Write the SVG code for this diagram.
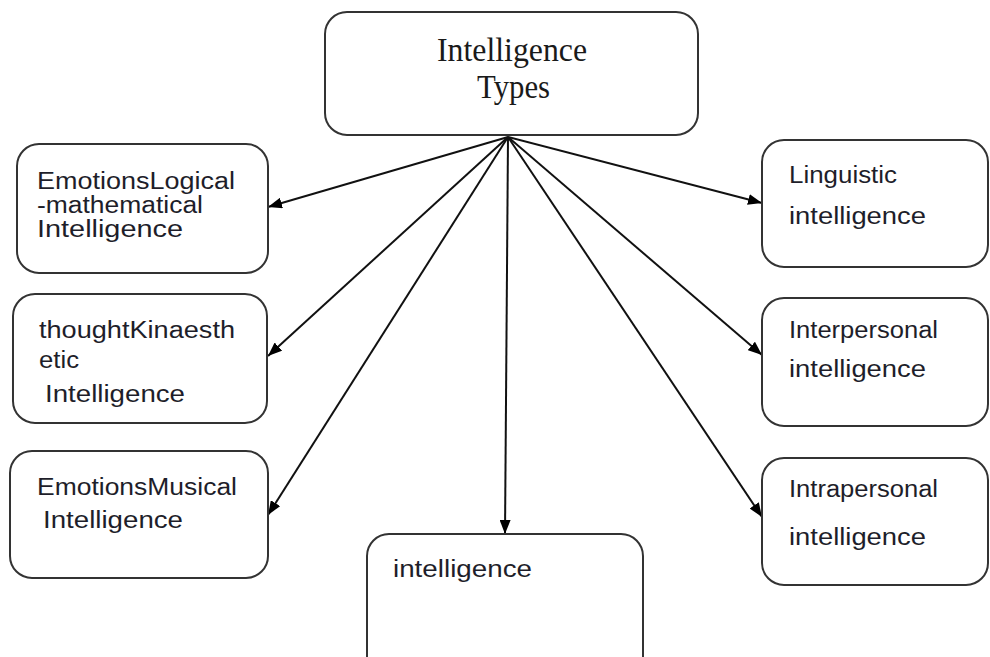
<svg xmlns="http://www.w3.org/2000/svg" width="990" height="657" viewBox="0 0 990 657">
<style>
.box{fill:#fff;stroke:#333;stroke-width:2}
.s{font-family:"Liberation Sans",Arial,sans-serif;font-size:23px;fill:#1e1e2a}
.t{font-family:"Liberation Serif","Times New Roman",serif;font-size:33px;fill:#1a1a1a}
.c{stroke:#111;stroke-width:2;fill:none;marker-end:url(#ah)}
</style>
<defs>
<marker id="ah" viewBox="0 0 14 11" refX="14" refY="5.5" markerWidth="14" markerHeight="11" markerUnits="userSpaceOnUse" orient="auto">
<path d="M0,0 L14,5.5 L0,11 Z" fill="#000"/>
</marker>
</defs>
<rect width="990" height="657" fill="#fff"/>
<g id="connectors">
<line class="c" x1="508" y1="137" x2="268" y2="207"/>
<line class="c" x1="508" y1="137" x2="268" y2="356"/>
<line class="c" x1="508" y1="137" x2="268" y2="515"/>
<line class="c" x1="508" y1="137" x2="505" y2="534"/>
<line class="c" x1="508" y1="137" x2="762" y2="203"/>
<line class="c" x1="508" y1="137" x2="762" y2="355"/>
<line class="c" x1="508" y1="137" x2="762" y2="517"/>
</g>
<g id="top">
<rect class="box" x="325" y="12" width="373" height="123" rx="22"/>
<text class="t" x="437" y="61" textLength="150" lengthAdjust="spacingAndGlyphs">Intelligence</text>
<text class="t" x="477" y="98" textLength="73" lengthAdjust="spacingAndGlyphs">Types</text>
</g>
<g id="logical">
<rect class="box" x="17" y="144" width="251" height="129" rx="22"/>
<text class="s" x="37" y="189" textLength="198" lengthAdjust="spacingAndGlyphs">EmotionsLogical</text>
<text class="s" x="37" y="213" textLength="166" lengthAdjust="spacingAndGlyphs">-mathematical</text>
<text class="s" x="37" y="237" textLength="146" lengthAdjust="spacingAndGlyphs">Intelligence</text>
</g>
<g id="kinaesthetic">
<rect class="box" x="13" y="294" width="254" height="129" rx="22"/>
<text class="s" x="39" y="338" textLength="196" lengthAdjust="spacingAndGlyphs">thoughtKinaesth</text>
<text class="s" x="39" y="368" textLength="40" lengthAdjust="spacingAndGlyphs">etic</text>
<text class="s" x="45" y="402" textLength="140" lengthAdjust="spacingAndGlyphs">Intelligence</text>
</g>
<g id="musical">
<rect class="box" x="10" y="451" width="258" height="127" rx="22"/>
<text class="s" x="37" y="495" textLength="200" lengthAdjust="spacingAndGlyphs">EmotionsMusical</text>
<text class="s" x="43" y="528" textLength="140" lengthAdjust="spacingAndGlyphs">Intelligence</text>
</g>
<g id="bottom">
<rect class="box" x="367" y="534" width="276" height="150" rx="22"/>
<text class="s" x="393" y="577" textLength="139" lengthAdjust="spacingAndGlyphs">intelligence</text>
</g>
<g id="linguistic">
<rect class="box" x="762" y="140" width="226" height="127" rx="22"/>
<text class="s" x="789" y="183" textLength="108" lengthAdjust="spacingAndGlyphs">Linguistic</text>
<text class="s" x="789" y="224" textLength="137" lengthAdjust="spacingAndGlyphs">intelligence</text>
</g>
<g id="interpersonal">
<rect class="box" x="762" y="298" width="226" height="128" rx="22"/>
<text class="s" x="789" y="338" textLength="149" lengthAdjust="spacingAndGlyphs">Interpersonal</text>
<text class="s" x="789" y="377" textLength="137" lengthAdjust="spacingAndGlyphs">intelligence</text>
</g>
<g id="intrapersonal">
<rect class="box" x="762" y="458" width="226" height="127" rx="22"/>
<text class="s" x="789" y="497" textLength="149" lengthAdjust="spacingAndGlyphs">Intrapersonal</text>
<text class="s" x="789" y="545" textLength="137" lengthAdjust="spacingAndGlyphs">intelligence</text>
</g>
</svg>
